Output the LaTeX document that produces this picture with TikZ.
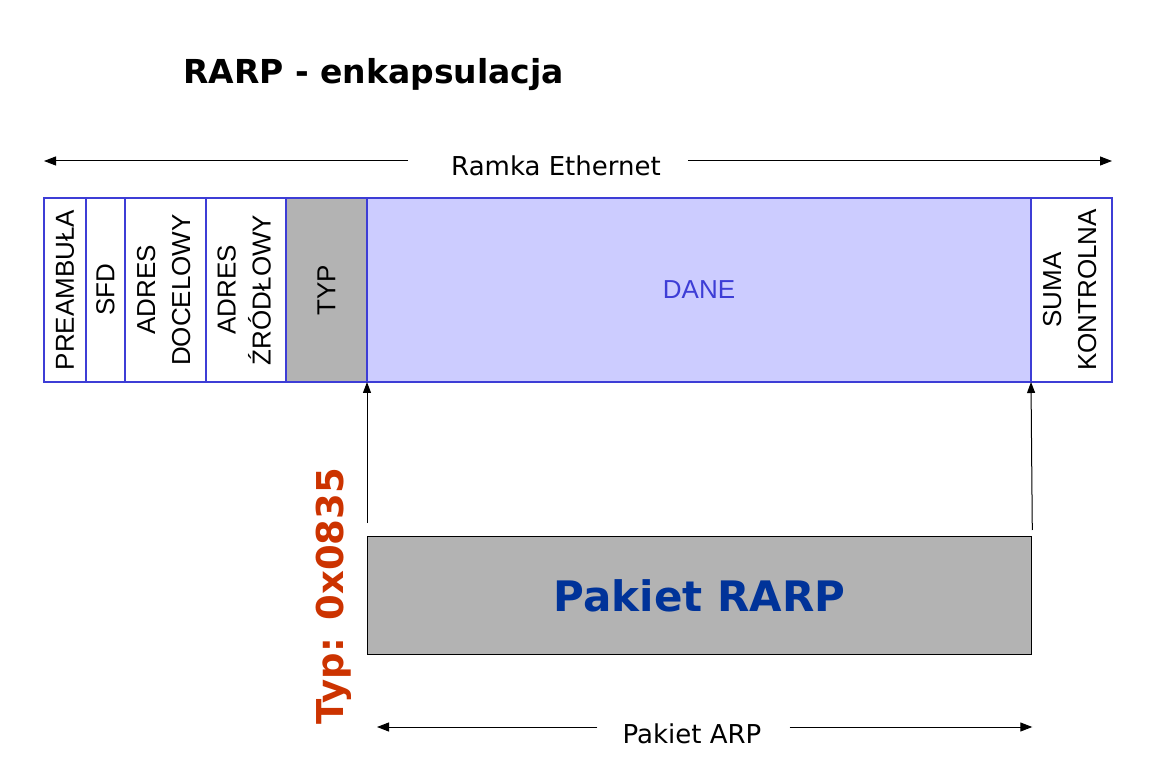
\documentclass[tikz,border=0pt]{standalone}
\usepackage{fontspec}
\usepackage{graphicx}
\setmainfont{DejaVu Sans}
\newfontfamily\fieldfont{Liberation Sans}
\usetikzlibrary{arrows.meta}
\usetikzlibrary{positioning}
\definecolor{frameblue}{HTML}{3D3DD6}
\definecolor{danefill}{HTML}{CCCCFF}
\definecolor{typfill}{HTML}{B3B3B3}
\definecolor{rarpblue}{HTML}{003399}
\definecolor{typred}{HTML}{CC3300}
\tikzstyle{field} = [rectangle, draw=frameblue, line width=1.3pt, minimum height=184pt, inner sep=0pt, outer sep=0pt, font=\fieldfont\fontsize{26}{35}\selectfont]
\tikzstyle{span} = [line width=1pt, -{Triangle[length=12pt,width=9pt]}]
\tikzstyle{up} = [line width=1pt, -{Triangle[length=11pt,width=8pt]}]
\tikzstyle{caption} = [inner sep=0pt, font=\fontsize{26}{30}\selectfont]

\begin{document}
\begin{tikzpicture}[x=1pt, y=-1pt]
 \useasboundingbox (0,0) rectangle (1168,759);

 \node (title) [anchor=base west, inner sep=0pt, font=\bfseries\fontsize{33}{40}\selectfont] at (183,84) {RARP - enkapsulacja};

 % ramka
 \node (pre) [field, minimum width=42pt, anchor=north west] at (44,198) {\rotatebox{90}{PREAMBUŁA}};
 \node (sfd) [field, minimum width=39pt, right=0pt of pre] {\rotatebox{90}{SFD}};
 \node (dst) [field, minimum width=81pt, right=0pt of sfd] {\rotatebox{90}{\begin{tabular}{c}ADRES\\DOCELOWY\end{tabular}}};
 \node (src) [field, minimum width=80pt, right=0pt of dst] {\rotatebox{90}{\begin{tabular}{c}ADRES\\ŹRÓDŁOWY\end{tabular}}};
 \node (typ) [field, minimum width=81pt, fill=typfill, right=0pt of src] {\rotatebox{90}{TYP}};
 \node (dane) [field, minimum width=664pt, fill=danefill, text=frameblue, right=0pt of typ] {DANE};
 \node (fcs) [field, minimum width=81pt, right=0pt of dane] {\rotatebox{90}{\begin{tabular}{c}SUMA\\KONTROLNA\end{tabular}}};

 \node (eth) [caption, anchor=base] at (556,176) {Ramka Ethernet};
 \draw[span] ([xshift=-43pt]eth.west |- 0,161) -- (pre.north west |- 0,161);
 \draw[span] ([xshift=27pt]eth.east |- 0,161) -- (fcs.north east |- 0,161);

 % pakiet
 \node (rarp) [rectangle, draw=black, line width=1.3pt, fill=typfill, minimum width=664pt, minimum height=118pt, anchor=north west, font=\bfseries\fontsize{42}{50}\selectfont, text=rarpblue] at (367,536) {Pakiet RARP};

 \draw[up] ([yshift=13pt]rarp.north west) -- (dane.south west);
 \draw[up] ([yshift=6pt]rarp.north east) -- (dane.south east);

 \node (typval) [rotate=90, anchor=base, inner sep=0pt, font=\bfseries\fontsize{37}{44}\selectfont, text=typred] at (343,596) {Typ: 0x0835};

 \node (arp) [caption, anchor=base] at (692,743) {Pakiet ARP};
 \draw[span] ([xshift=-25pt]arp.west |- 0,727) -- ([xshift=10pt]rarp.south west |- 0,727);
 \draw[span] ([xshift=28pt]arp.east |- 0,727) -- (rarp.south east |- 0,727);
\end{tikzpicture}
\end{document}
